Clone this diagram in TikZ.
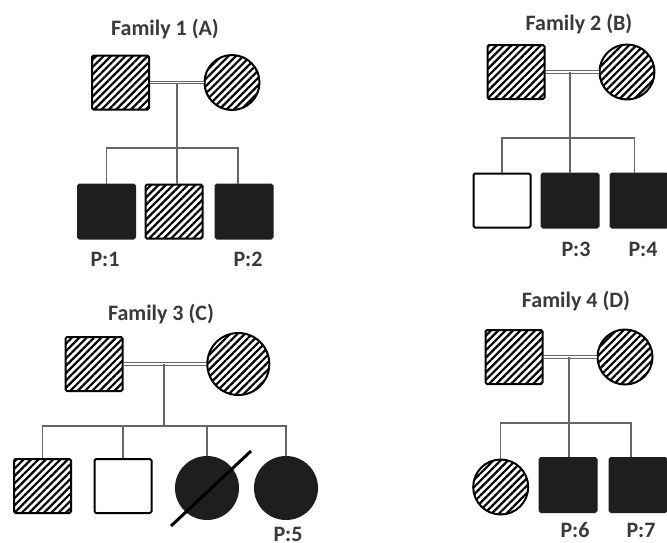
\documentclass[tikz,border=0pt]{standalone}
\usepackage{fontspec}
\setmainfont{Carlito}
\usepackage{xcolor}
\definecolor{LineGray}{HTML}{666666}
\definecolor{TextGray}{HTML}{3A3A3A}
\definecolor{Affected}{HTML}{1E1E1E}
\usetikzlibrary{patterns.meta, calc}

\begin{document}
\begin{tikzpicture}[
  x=1pt, y=-1pt,
  font=\fontsize{22}{25}\selectfont\bfseries,
  male/.style={
    rectangle, rounded corners=1.5pt, inner sep=0pt,
    minimum width=57pt, minimum height=54pt,
    line width=2pt, draw=black
  },
  female/.style={
    circle, inner sep=0pt, minimum size=55pt,
    line width=2pt, draw=black
  },
  carrier/.style={pattern={Lines[angle=45, distance=5.2pt, line width=2.2pt]}},
  affected/.style={fill=Affected, draw=Affected},
  healthy/.style={fill=white},
  link/.style={draw=LineGray, line width=1.1pt},
  marriage/.style={draw=LineGray, double=white, double distance=1.8pt, line width=0.9pt},
  slash/.style={draw=black, line width=3pt},
  title/.style={anchor=base, text=TextGray},
  lbl/.style={anchor=base, text=TextGray},
]
\fill[white] (0,0) rectangle (667,542);
\useasboundingbox (0,0) rectangle (667,542);

% Family 1
\node[title] (t1) at (165,35) {Family 1 (A)};
\node[male, carrier]   (f1fa) at (120.5,82.5) {};
\node[female, carrier] (f1mo) at (232,82.5) {};
\node[male, affected]  (f1c1) at (106.5,211.5) {};
\node[male, carrier]   (f1c2) at (174,211.5) {};
\node[male, affected]  (f1c3) at (244,211.5) {};
\coordinate (f1m) at (177,82.5);
\coordinate (f1s) at (177,148);
\node[lbl] (p1) at (105,266.5) {P:1};
\node[lbl] (p2) at (248,266.5) {P:2};

\draw[marriage] (f1fa) -- (f1mo);
\draw[link] (f1m) -- (f1s);
\draw[link] (f1c1.north) |- (f1s) -| ([xshift=-6pt]f1c3.north);
\draw[link] (f1s) -- (f1s |- f1c2.north);

% Family 2
\node[title] (t2) at (579,30.5) {Family 2 (B)};
\node[male, carrier]   (f2fa) at (516,72) {};
\node[female, carrier] (f2mo) at (627,72) {};
\node[male, healthy]   (f2c1) at (502,200.5) {};
\node[male, affected]  (f2c2) at (570,200.5) {};
\node[male, affected]  (f2c3) at (639,200.5) {};
\coordinate (f2m) at (570,72);
\coordinate (f2s) at (570,138);
\node[lbl] (p3) at (576,256.5) {P:3};
\node[lbl] (p4) at (643,256.5) {P:4};

\draw[marriage] (f2fa) -- (f2mo);
\draw[link] (f2m) -- (f2s);
\draw[link] (f2c1.north) |- (f2s) -| ([xshift=-4.5pt]f2c3.north);
\draw[link] (f2s) -- (f2s |- f2c2.north);

% Family 3
\node[title] (t3) at (161,320) {Family 3 (C)};
\node[male, carrier]   (f3fa) at (94,364) {};
\node[female, carrier, minimum size=62pt] (f3mo) at (238.3,364) {};
\node[male, carrier]   (f3c1) at (42.5,486) {};
\node[male, healthy]   (f3c2) at (123,486) {};
\node[female, affected, minimum size=62pt] (f3c3) at (207,488) {};
\node[female, affected, minimum size=62pt] (f3c4) at (286,488) {};
\coordinate (f3m) at (164,364);
\coordinate (f3s) at (164,426);
\coordinate (f3d1) at (171,526);
\coordinate (f3d2) at (251,451);
\node[lbl] (p5) at (288,541) {P:5};

\draw[marriage] (f3fa) -- (f3mo);
\draw[link] (f3m) -- (f3s);
\draw[link] (f3c1.north) |- (f3s) -| (f3c4.north);
\draw[link] (f3s) -- (f3s -| f3c2.north) -- (f3c2.north);
\draw[link] (f3s) -- (f3s -| f3c3.north) -- (f3c3.north);
\draw[slash] (f3d1) -- (f3d2);

% Family 4
\node[title] (t4) at (576,307.7) {Family 4 (D)};
\node[male, carrier]   (f4fa) at (514,357) {};
\node[female, carrier] (f4mo) at (625,357) {};
\node[female, carrier] (f4c1) at (500.7,487) {};
\node[male, affected]  (f4c2) at (568,485) {};
\node[male, affected]  (f4c3) at (638,485) {};
\coordinate (f4m) at (569,357);
\coordinate (f4s) at (569,423);
\node[lbl] (p6) at (575,537.5) {P:6};
\node[lbl] (p7) at (641,537.5) {P:7};

\draw[marriage] (f4fa) -- (f4mo);
\draw[link] (f4m) -- (f4s);
\draw[link] (f4c1.north) |- (f4s) -| ([xshift=-7pt]f4c3.north);
\draw[link] (f4s) -- (f4s |- f4c2.north);

\end{tikzpicture}
\end{document}
